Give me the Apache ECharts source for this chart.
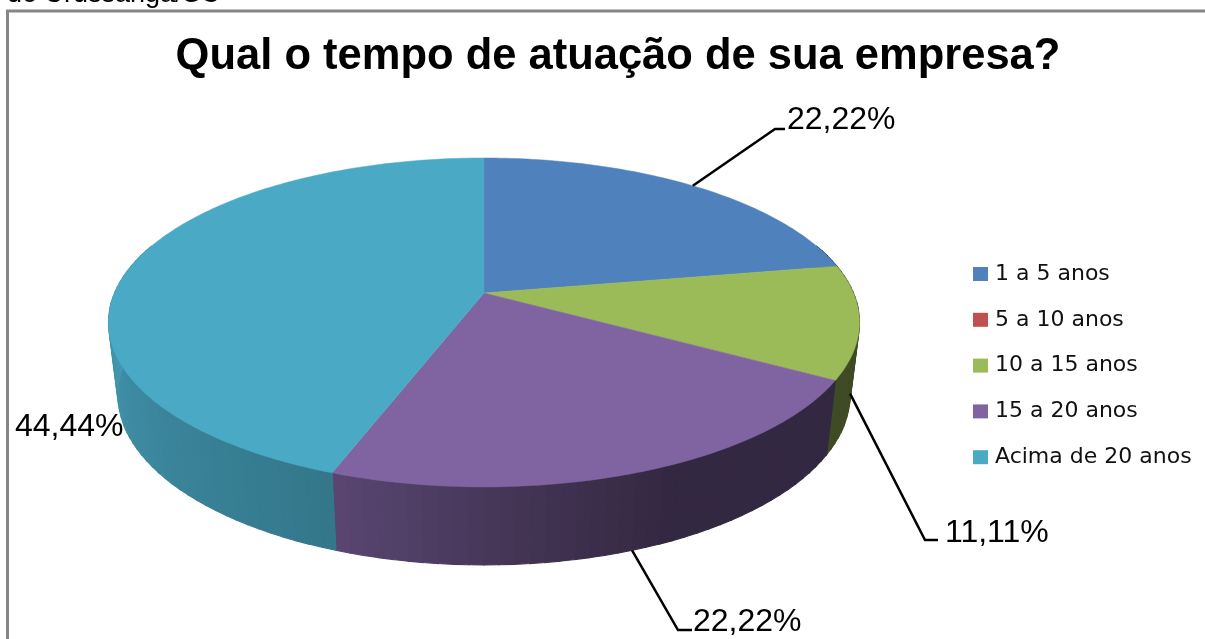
<!DOCTYPE html>
<html>
<head>
<meta charset="utf-8">
<title>Qual o tempo de atuação de sua empresa?</title>
<script src="https://cdn.jsdelivr.net/npm/echarts@6/dist/echarts.min.js"></script>
<style>
  html, body { margin: 0; padding: 0; background: #fff; }
  #chart { width: 1205px; height: 639px; }
</style>
</head>
<body>
<div id="chart"></div>
<script>
const categories = ['1 a 5 anos', '5 a 10 anos', '10 a 15 anos', '15 a 20 anos', 'Acima de 20 anos'];
const percents = [22.22, 0, 11.11, 22.22, 44.44];
const colors = ['#4f81bd', '#c0504d', '#9bbb59', '#8064a2', '#4aa9c5'];

// label box and leader bend, in page pixels
const labelSpots = [
  { x: 787, y: 120, bend: [775, 129], end: [785, 129] },
  null,
  { x: 945, y: 533, bend: [925, 540], end: [938, 540] },
  { x: 693, y: 622, bend: [678, 630], end: [692, 630] },
  { x: 15, y: 427 }
];

// perspective disc, fitted to the picture
const cx = 484, topY = 293, R = 369.4, S = 159.2, k = 0.179;
const botY = 364, botX = 0.975, botV = 1.036;
// side shading by angle (degrees clockwise from 12 o'clock)
const shadeStops = [[90, 0.4], [155, 0.4], [172, 0.5], [200, 0.7], [270, 0.9]];

function project(deg, bottom) {
  const t = deg * Math.PI / 180;
  const u = Math.sin(t), v = -Math.cos(t), w = 1 - k * v;
  const px = R * u / w, py = S * v / w;
  return bottom ? [cx + px * botX, botY + py * botV] : [cx + px, topY + py];
}

function shadeAt(deg) {
  if (deg <= shadeStops[0][0]) return shadeStops[0][1];
  for (let i = 1; i < shadeStops.length; i++) {
    if (deg <= shadeStops[i][0]) {
      const a = shadeStops[i - 1], b = shadeStops[i];
      return a[1] + (b[1] - a[1]) * (deg - a[0]) / (b[0] - a[0]);
    }
  }
  return shadeStops[shadeStops.length - 1][1];
}

function darken(hex, f) {
  const n = parseInt(hex.slice(1), 16);
  const c = [n >> 16, (n >> 8) & 255, n & 255].map(x => Math.round(x * f));
  return 'rgb(' + c.join(',') + ')';
}

const total = percents.reduce((a, b) => a + b, 0);
const startAngles = [];
percents.reduce((acc, p, i) => { startAngles[i] = acc; return acc + p / total * 360; }, 0);

function renderSlice(params, api) {
  const i = params.seriesIndex;
  const value = api.value(0);
  if (!value) return { type: 'group', children: [] };
  const a0 = startAngles[i], a1 = a0 + value / total * 360;
  const color = colors[i];
  const children = [];
  const step = 2;

  // side wall strips
  for (let a = a0; a < a1 - 0.001; a += step) {
    const b = Math.min(a + step, a1);
    if (Math.cos(a * Math.PI / 180) > 0.3 && Math.cos(b * Math.PI / 180) > 0.3) continue;
    const fill = darken(color, shadeAt((a + b) / 2));
    children.push({
      type: 'polygon', z2: 1,
      shape: { points: [project(a), project(b), project(b, true), project(a, true)] },
      style: { fill: fill, stroke: fill, lineWidth: 1.2 }
    });
  }

  // top face
  const top = [[cx, topY]];
  for (let a = a0; a < a1; a += 1) top.push(project(a));
  top.push(project(a1));
  children.push({
    type: 'polygon', z2: 5,
    shape: { points: top },
    style: { fill: color, stroke: color, lineWidth: 0.5 }
  });

  // leader line and label
  const spot = labelSpots[i];
  const mid = (a0 + a1) / 2;
  const onSide = Math.cos(mid * Math.PI / 180) < 0;
  if (spot.bend) {
    children.push({
      type: 'polyline', z2: 8,
      shape: { points: [project(mid, onSide), spot.bend, spot.end] },
      style: { stroke: '#000', lineWidth: 2.5, fill: null }
    });
  }
  children.push({
    type: 'text', z2: 9,
    style: {
      x: spot.x, y: spot.y,
      text: value.toFixed(2).replace('.', ',') + '%',
      font: '32px "Liberation Sans"',
      fill: '#000', textAlign: 'left', textVerticalAlign: 'middle'
    }
  });
  return { type: 'group', children: children };
}

const chart = echarts.init(document.getElementById('chart'));
chart.setOption({
  animation: false,
  backgroundColor: '#fff',
  title: {
    text: 'Qual o tempo de atuação de sua empresa?',
    left: 613, top: 30, textAlign: 'center',
    textStyle: { fontFamily: 'Liberation Sans', fontWeight: 'bold', fontSize: 43.5, color: '#000' }
  },
  legend: {
    orient: 'vertical',
    left: 973, top: 263,
    padding: 0,
    icon: 'rect',
    itemWidth: 15, itemHeight: 14,
    itemGap: 23.8,
    data: categories,
    textStyle: { fontFamily: 'DejaVu Sans', fontSize: 22, lineHeight: 20, color: '#111', padding: [0, 0, 0, 2] }
  },
  graphic: [
    {
      type: 'text', z: 0,
      style: { x: 7, y: -19, text: 'de Urussanga/SC', font: '27px "Liberation Sans"', fill: '#000' }
    },
    {
      type: 'polyline', z: 0,
      shape: { points: [[7.5, 645], [7.5, 11], [1210, 11]] },
      style: { stroke: '#868686', lineWidth: 3, fill: null }
    }
  ],
  series: categories.map((name, i) => ({
    type: 'custom',
    name: name,
    coordinateSystem: 'none',
    itemStyle: { color: colors[i] },
    renderItem: renderSlice,
    data: [[percents[i]]]
  }))
});
</script>
</body>
</html>
